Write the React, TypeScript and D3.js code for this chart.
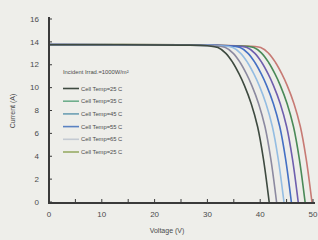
import React from "react";
import * as d3 from "d3";

type Pt = [number, number];

const curveA: Pt[] = [[0,13.75],[25,13.72],[30,13.66],[32,13.5],[33.5,13.0],[34.8,12.2],[36,11.2],[37,10.2],[38.3,8.6],[39.5,6.6],[40.6,3.8],[41.7,0]];
const curveB: Pt[] = [[0,13.75],[25,13.72],[31,13.66],[33.4,13.5],[34.9,13.0],[36.2,12.2],[37.4,11.2],[38.4,10.2],[39.7,8.6],[40.9,6.6],[42,3.8],[43.1,0]];
const curveC: Pt[] = [[0,13.75],[25,13.72],[32,13.66],[34.8,13.5],[36.3,13.0],[37.6,12.2],[38.8,11.2],[39.8,10.2],[41.1,8.6],[42.3,6.6],[43.4,3.8],[44.5,0]];
const curveD: Pt[] = [[0,13.76],[25,13.73],[33,13.66],[36.2,13.5],[37.7,13.0],[39,12.2],[40.2,11.2],[41.2,10.2],[42.5,8.6],[43.7,6.6],[44.8,3.8],[45.9,0]];
const curveE: Pt[] = [[0,13.76],[25,13.73],[34,13.66],[37.5,13.5],[39,13.0],[40.3,12.2],[41.5,11.2],[42.5,10.2],[43.8,8.6],[45,6.6],[46.1,3.8],[47.2,0]];
const curveF: Pt[] = [[0,13.77],[25,13.74],[35,13.66],[38.8,13.5],[40.3,13.0],[41.6,12.2],[42.8,11.2],[43.8,10.2],[45.1,8.6],[46.3,6.6],[47.4,3.8],[48.5,0]];
const curveG: Pt[] = [[0,13.77],[25,13.74],[36,13.66],[40.1,13.5],[41.6,13.0],[42.9,12.2],[44.1,11.2],[45.1,10.2],[46.4,8.6],[47.6,6.6],[48.7,3.8],[49.8,0]];

const seriesData: Pt[][] = [curveG, curveF, curveE, curveD, curveC, curveB, curveA];
const seriesColors = ["#c77a74", "#4a8a58", "#6e5fae", "#4470c4", "#94bde2", "#8c8aa0", "#3e4a40"];

const legendLabels = ["Cell Temp=25 C", "Cell Temp=35 C", "Cell Temp=45 C", "Cell Temp=55 C", "Cell Temp=65 C", "Cell Temp=25 C"];
const legendColors = ["#3e4a40", "#6fae8c", "#6c9fb4", "#5a82c2", "#c4cad2", "#98ac66"];

const yTicks = [0, 2, 4, 6, 8, 10, 12, 14, 16];
const xTicks = [0, 10, 20, 30, 40, 50];
const xMinorTicks = [5, 10, 15, 20, 25, 30, 35, 40, 45, 50];

export default function App() {
  const W = 318, H = 240;
  const x = d3.scaleLinear().domain([0, 50]).range([49, 313]);
  const y = d3.scaleLinear().domain([0, 16]).range([202, 19]);
  const line = d3.line<Pt>().x(d => x(d[0])).y(d => y(d[1])).curve(d3.curveCatmullRom.alpha(0.5));
  const font = "Liberation Sans, Arial, sans-serif";
  const axisColor = "#3a3a3a";
  const textColor = "#4a4a4a";

  return (
    <svg width={W} height={H} style={{ position: "absolute", left: 0, top: 0 }}>
      <rect x={0} y={0} width={W} height={H} fill="#eeeeea" />
      {seriesData.map((d, i) => (
        <path key={i} d={line(d) || ""} fill="none" stroke={seriesColors[i]} strokeWidth={1.6} />
      ))}
      <line x1={x(0)} x2={x(0)} y1={y(16) - 2} y2={y(0) + 1} stroke={axisColor} strokeWidth={2} />
      <line x1={x(0) - 1} x2={x(50) + 2} y1={y(0) + 1} y2={y(0) + 1} stroke={axisColor} strokeWidth={2} />
      {yTicks.map(t => (
        <g key={"y" + t}>
          <line x1={x(0)} x2={x(0) + 3} y1={y(t)} y2={y(t)} stroke={axisColor} strokeWidth={1} />
          <text x={39} y={y(t) + 2.7} fontSize={8} fill={textColor} textAnchor="end" fontFamily={font}>{t}</text>
        </g>
      ))}
      {xMinorTicks.map(t => (
        <line key={"xm" + t} x1={x(t)} x2={x(t)} y1={y(0)} y2={y(0) - 3} stroke={axisColor} strokeWidth={1} />
      ))}
      {xTicks.map(t => (
        <text key={"x" + t} x={x(t)} y={217} fontSize={8} fill={textColor} textAnchor="middle" fontFamily={font}>{t}</text>
      ))}
      <text x={167} y={233} fontSize={7} fill={textColor} textAnchor="middle" fontFamily={font}>Voltage (V)</text>
      <text transform={`translate(15,${111}) rotate(-90)`} fontSize={7} fill={textColor} textAnchor="middle" fontFamily={font}>Current (A)</text>
      <text x={63} y={74} fontSize={5.8} fill={textColor} fontFamily={font}>Incident Irrad.=1000W/m²</text>
      {legendLabels.map((l, i) => {
        const ly = 88.5 + i * 12.7;
        return (
          <g key={"l" + i}>
            <line x1={63} x2={79} y1={ly} y2={ly} stroke={legendColors[i]} strokeWidth={1.6} />
            <text x={81} y={ly + 2} fontSize={5.8} fill={textColor} fontFamily={font}>{l}</text>
          </g>
        );
      })}
    </svg>
  );
}
